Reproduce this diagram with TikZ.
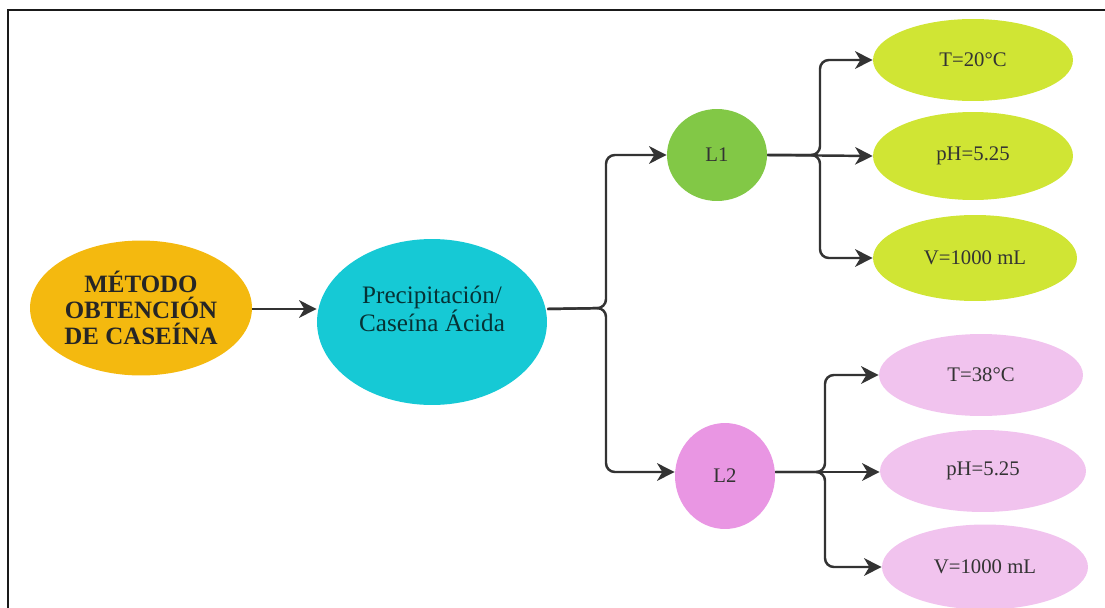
\documentclass[tikz,border=0pt]{standalone}
\usepackage{fontspec}
\setmainfont{Liberation Serif}
\usetikzlibrary{shapes.geometric,arrows.meta}
\definecolor{frame}{HTML}{1A1A1A}
\definecolor{linec}{HTML}{333333}
\definecolor{txt}{HTML}{333333}
\definecolor{orangec}{HTML}{F4B90F}
\definecolor{cyanc}{HTML}{16C9D5}
\definecolor{greenc}{HTML}{82C846}
\definecolor{limec}{HTML}{D0E534}
\definecolor{pinkc}{HTML}{E996E3}
\definecolor{lpinkc}{HTML}{F1C3EE}
\tikzset{
  blob/.style={ellipse, draw=none, inner sep=0pt, align=center, text=txt},
  small/.style={font=\fontsize{11.8}{13}\selectfont},
  arr/.style={draw=linec, line width=1.4pt, rounded corners=5pt,
              -{Stealth[length=10pt,width=10pt,inset=3pt]}},
}
\begin{document}
\begin{tikzpicture}[x=0.02cm,y=-0.02cm]
\useasboundingbox (0,0) rectangle (1105,608);
% page frame (top and left edges)
\draw[frame, line width=1.2pt] (8,608) -- (8,10) -- (1105,10);

% main nodes
\node[blob, fill=orangec, minimum width=4.44cm, minimum height=2.7cm,
      font=\bfseries\fontsize{14.2}{14.6}\selectfont, text=black!85]
  (metodo) at (141,308) {MÉTODO\\OBTENCIÓN\\DE CASEÍNA};
\node[blob, fill=cyanc, minimum width=4.6cm, minimum height=3.32cm]
  (prec) at (432,322) {};
\node[align=center, inner sep=0pt, text=black!75!cyanc,
      font=\fontsize{14.3}{14.8}\selectfont]
  (prectext) at (432,309) {Precipitación/\\Caseína Ácida};

\node[blob, small, fill=greenc, minimum width=2cm, minimum height=1.84cm]
  (L1) at (717,155) {L1};
\node[blob, small, fill=pinkc, minimum width=2cm, minimum height=2.12cm]
  (L2) at (725,476) {L2};

% L1 conditions
\node[blob, small, fill=limec, minimum width=4cm, minimum height=1.64cm]
  (g1) at (973,60) {T=20°C};
\node[blob, small, fill=limec, minimum width=4cm, minimum height=1.76cm]
  (g2) at (973,156) {pH=5.25};
\node[blob, small, fill=limec, minimum width=4.08cm, minimum height=1.72cm]
  (g3) at (975,258) {V=1000 mL};

% L2 conditions
\node[blob, small, fill=lpinkc, minimum width=4.08cm, minimum height=1.64cm]
  (p1) at (981,375) {T=38°C};
\node[blob, small, fill=lpinkc, minimum width=4.12cm, minimum height=1.64cm]
  (p2) at (983,471) {pH=5.25};
\node[blob, small, fill=lpinkc, minimum width=4.12cm, minimum height=1.7cm]
  (p3) at (985,567) {V=1000 mL};

% branching points
\coordinate (j1) at (606,308);
\coordinate (j2) at (820,155);
\coordinate (j3) at (825,472);

% connectors
\draw[arr] (metodo.east |- prectext) -- (prectext -| prec.west);
\draw[arr] (prectext -| prec.east) -- (j1) |- (L1.west);
\draw[arr] (prectext -| prec.east) -- (j1) |- (L2.west |- j3);

\draw[arr] (L1.east) -- (j2) |- (g1.west);
\draw[arr] (L1.east) -- (g2.west);
\draw[arr] (L1.east) -- (j2) |- (g3.west);

\draw[arr] (L2.east |- j3) -- (j3) |- (p1.west);
\draw[arr] (L2.east |- j3) -- (p2.west |- j3);
\draw[arr] (L2.east |- j3) -- (j3) |- (p3.west);
\end{tikzpicture}
\end{document}
